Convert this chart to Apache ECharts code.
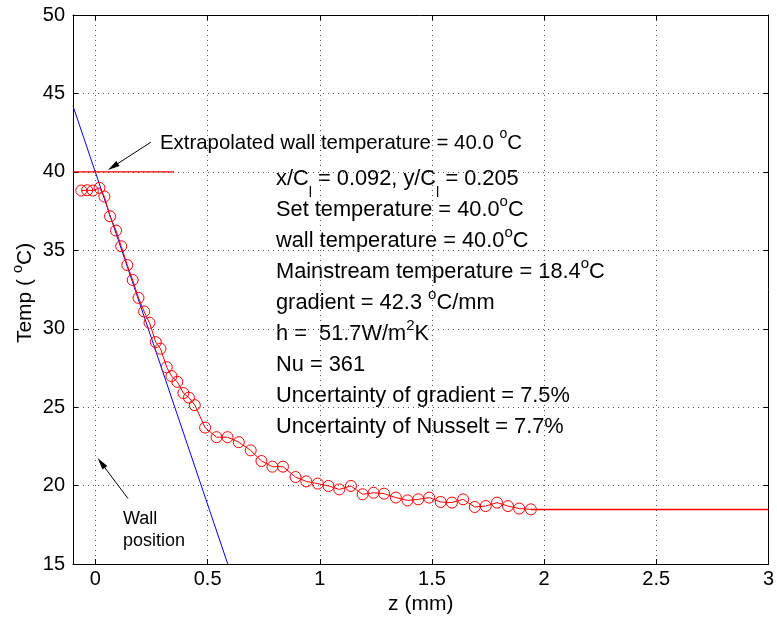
<!DOCTYPE html>
<html>
<head>
<meta charset="utf-8">
<script src="https://cdn.jsdelivr.net/npm/echarts@6/dist/echarts.min.js"></script>
<style>
html,body{margin:0;padding:0;background:#fff;}
#main{width:777px;height:620px;}
</style>
</head>
<body>
<div id="main"></div>
<script>
// ---- data ----
var zVals = [-0.063,-0.037,-0.012,0.018,0.040,0.065,0.092,0.115,0.142,0.166,0.192,0.217,0.241,0.269,0.290,0.318,0.339,0.365,0.392,0.417,0.443,0.489,0.540,0.589,0.639,0.692,0.740,0.789,0.836,0.892,0.940,0.991,1.039,1.087,1.139,1.191,1.240,1.287,1.339,1.391,1.439,1.488,1.539,1.589,1.639,1.691,1.740,1.790,1.839,1.889,1.941];
var tempVals = [38.81,38.83,38.81,38.98,38.43,37.17,36.26,35.26,34.06,33.11,31.97,31.10,30.38,29.15,28.73,27.55,26.98,26.62,25.90,25.61,25.13,23.70,23.09,23.09,22.77,22.25,21.57,21.21,21.21,20.55,20.27,20.13,19.98,19.76,19.98,19.45,19.55,19.49,19.24,19.06,19.13,19.24,18.96,18.92,19.13,18.64,18.70,18.92,18.70,18.54,18.49];
var mainstreamLine = [[1.941, 18.48], [3.0, 18.48]];
var wallTempLine = [[-0.1, 40.0], [0.35, 40.0]];
var gradientLine = [[-0.1, 44.2], [0.59, 15.0]];
var arrowWallTemp = [[0.247, 41.89], [0.078, 40.33]];
var arrowWallPos = [[0.145, 19.18], [0.026, 21.45]];
var xTicks = [0, 0.5, 1, 1.5, 2, 2.5, 3];
var xRange = [-0.1, 3];
var yRange = [15, 50];
var yStep = 5;
var infoLines = [
  '{s|x/C}{b|l}{s| = 0.092, y/C}{b|l}{s| = 0.205}',
  '{m|Set temperature = 40.0}{o|o}{m|C}',
  '{m|wall temperature = 40.0}{o|o}{m|C}',
  '{m|Mainstream temperature = 18.4}{o|o}{m|C}',
  '{m|gradient = 42.3 }{o|o}{m|C/mm}',
  '{m|h =  51.7W/m}{o|2}{m|K}',
  '{m|Nu = 361}',
  '{m|Uncertainty of gradient = 7.5%}',
  '{m|Uncertainty of Nusselt = 7.7%}'
];

var chart = echarts.init(document.getElementById('main'), null, {renderer: 'canvas'});
var FONT = '"Liberation Sans", Arial, Helvetica, sans-serif';

function pairs(xs, ys) { return xs.map(function (x, i) { return [x, ys[i]]; }); }

var gridLineStyle = {color: '#555', width: 1, type: [1, 4]};

var richInfo = {
  m: {fontSize: 21.8, fontFamily: FONT, lineHeight: 32, color: '#000'},
  o: {fontSize: 15, fontFamily: FONT, lineHeight: 15, verticalAlign: 'top', color: '#000'},
  s: {fontSize: 21.8, fontFamily: FONT, lineHeight: 42, color: '#000'},
  b: {fontSize: 14.5, fontFamily: FONT, lineHeight: 14, verticalAlign: 'bottom', color: '#000'}
};

var graphics = [];
infoLines.forEach(function (t, i) {
  graphics.push({
    type: 'text', x: 276, y: 179 + 31 * i,
    style: {text: t, rich: richInfo, fill: '#000', verticalAlign: 'middle', align: 'left'}
  });
});
graphics.push({
  type: 'text', x: 160, y: 143.5,
  style: {
    text: '{m|Extrapolated wall temperature = 40.0 }{o|o}{m|C}',
    rich: {
      m: {fontSize: 20.4, fontFamily: FONT, lineHeight: 32, color: '#000'},
      o: {fontSize: 14, fontFamily: FONT, lineHeight: 15, verticalAlign: 'top', color: '#000'}
    },
    verticalAlign: 'middle', align: 'left'
  }
});
graphics.push({
  type: 'text', x: 123, y: 519,
  style: {text: 'Wall', font: '18px ' + FONT, fill: '#000', verticalAlign: 'middle', align: 'left'}
});
graphics.push({
  type: 'text', x: 123, y: 541,
  style: {text: 'position', font: '18px ' + FONT, fill: '#000', verticalAlign: 'middle', align: 'left'}
});
graphics.push({
  type: 'text', x: 25, y: 293, rotation: Math.PI / 2,
  style: {
    text: '{m|Temp ( }{o|o}{m|C)}',
    rich: {
      m: {fontSize: 21, fontFamily: FONT, lineHeight: 30, color: '#000'},
      o: {fontSize: 14.5, fontFamily: FONT, lineHeight: 15, verticalAlign: 'top', color: '#000'}
    },
    verticalAlign: 'middle', align: 'center'
  }
});

var arrowMark = function (seg) {
  return {
    silent: true, animation: false,
    symbol: ['none', 'triangle'], symbolSize: [6, 12],
    label: {show: false},
    lineStyle: {color: '#000', width: 1, type: 'solid'},
    itemStyle: {color: '#000'},
    emphasis: {disabled: true},
    data: [[{coord: seg[0]}, {coord: seg[1]}]]
  };
};

var option = {
  animation: false,
  backgroundColor: '#fff',
  color: ['#ff0000'],
  grid: {left: 73, right: 7, top: 15, bottom: 54, containLabel: false},
  xAxis: [{
    type: 'value', min: xRange[0], max: xRange[1], position: 'bottom',
    name: 'z (mm)', nameLocation: 'middle', nameGap: 27,
    nameTextStyle: {fontSize: 21, fontFamily: FONT, color: '#000'},
    axisLine: {show: true, onZero: false, lineStyle: {color: '#000', width: 1}},
    axisTick: {show: true, inside: true, length: 5, customValues: xTicks, lineStyle: {color: '#000'}},
    axisLabel: {show: true, customValues: xTicks, margin: 5, fontSize: 20, fontFamily: FONT, color: '#000'},
    splitLine: {show: true, lineStyle: gridLineStyle}
  }, {
    type: 'value', min: xRange[0], max: xRange[1], position: 'top',
    axisLine: {show: true, onZero: false, lineStyle: {color: '#000', width: 1}},
    axisTick: {show: true, inside: true, length: 5, customValues: xTicks, lineStyle: {color: '#000'}},
    axisLabel: {show: false},
    splitLine: {show: false}
  }],
  yAxis: [{
    type: 'value', min: yRange[0], max: yRange[1], interval: yStep, position: 'left',
    axisLine: {show: true, onZero: false, lineStyle: {color: '#000', width: 1}},
    axisTick: {show: true, inside: true, length: 5, lineStyle: {color: '#000'}},
    axisLabel: {show: true, margin: 8, fontSize: 20, fontFamily: FONT, color: '#000'},
    splitLine: {show: true, lineStyle: gridLineStyle}
  }, {
    type: 'value', min: yRange[0], max: yRange[1], interval: yStep, position: 'right',
    axisLine: {show: true, onZero: false, lineStyle: {color: '#000', width: 1}},
    axisTick: {show: true, inside: true, length: 5, lineStyle: {color: '#000'}},
    axisLabel: {show: false},
    splitLine: {show: false}
  }],
  series: [{
    name: 'gradient', type: 'line', data: gradientLine, symbol: 'none', silent: true,
    lineStyle: {color: '#0000ff', width: 1}, itemStyle: {color: '#0000ff'}, z: 2
  }, {
    name: 'measured', type: 'line', data: pairs(zVals, tempVals),
    symbol: 'circle', symbolSize: 11, showSymbol: true, silent: true,
    lineStyle: {color: '#ff0000', width: 1},
    itemStyle: {color: 'rgba(0,0,0,0)', borderColor: '#ff0000', borderWidth: 1},
    z: 3
  }, {
    name: 'mainstream', type: 'line', data: mainstreamLine, symbol: 'none', silent: true,
    lineStyle: {color: '#ff0000', width: 1.3, opacity: 1}, itemStyle: {color: '#ff0000'}, z: 4
  }, {
    name: 'wall', type: 'line', data: wallTempLine, symbol: 'none', silent: true,
    lineStyle: {color: '#ff0000', width: 1.3, opacity: 1}, itemStyle: {color: '#ff0000'}, z: 4,
    markLine: arrowMark(arrowWallTemp)
  }, {
    name: 'wallpos', type: 'line', data: [], symbol: 'none', silent: true,
    markLine: arrowMark(arrowWallPos)
  }],
  graphic: graphics
};
chart.setOption(option);
</script>
</body>
</html>
